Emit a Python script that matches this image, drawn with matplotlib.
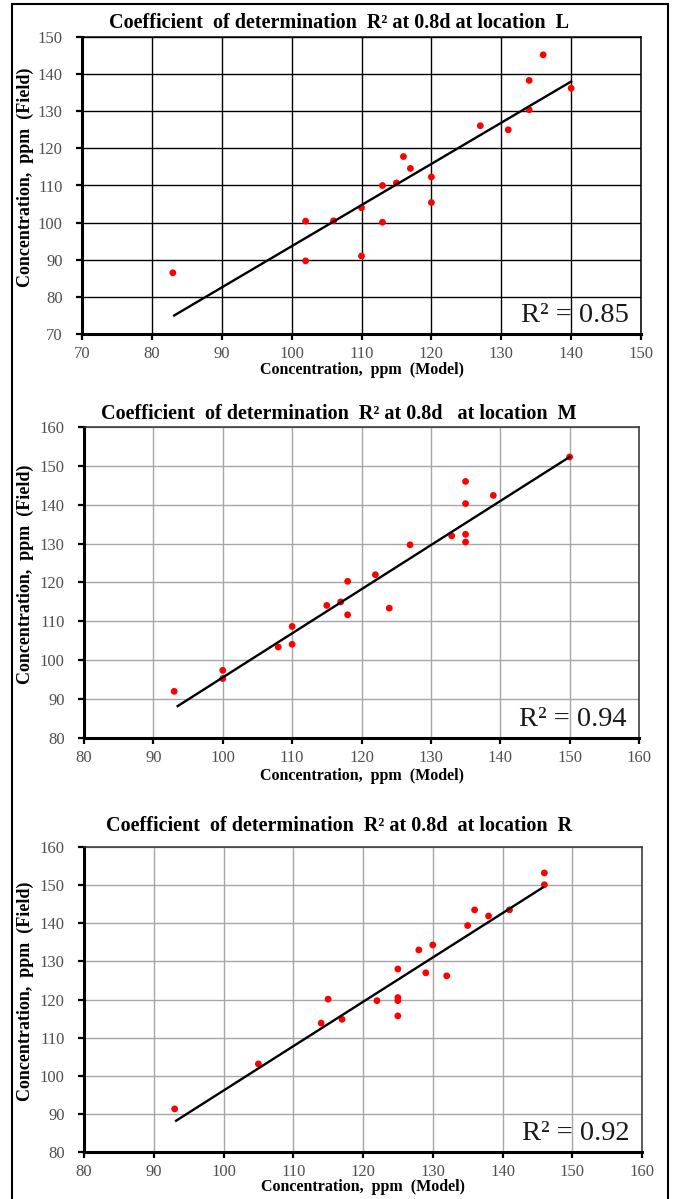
import matplotlib
matplotlib.use("Agg")
import matplotlib.pyplot as plt
from matplotlib.patches import Rectangle

plt.rcParams['font.family'] = ['Liberation Serif', 'DejaVu Serif']

# ---- data ----
# location L
model_L = [83, 102, 102, 106, 110, 110, 113, 113, 115, 116, 117, 120, 120, 127, 131, 134, 134, 136, 140]
field_L = [86.5, 100.4, 89.7, 100.5, 104, 91, 110, 100.1, 110.7, 117.8, 114.6, 112.3, 105.4, 126.1, 125, 138.3, 130.4, 145.2, 136.2]
trend_L_x = [83.2, 140]
trend_L_y = [75, 138]

# location M
model_M = [93, 100, 100, 108, 110, 110, 115, 117, 118, 118, 122, 124, 127, 133, 135, 135, 135, 135, 139, 150]
field_M = [92, 97.4, 95.3, 103.4, 108.7, 104.1, 114.1, 115, 111.7, 120.3, 122, 113.4, 129.7, 132, 146, 140.3, 132.4, 130.4, 142.4, 152.3]
trend_M_x = [93.5, 150]
trend_M_y = [88.2, 152.3]

# location R
model_R = [93, 105, 114, 115, 117, 122, 125, 125, 125, 125, 128, 129, 130, 132, 135, 136, 138, 141, 146, 146]
field_R = [91.3, 103.1, 113.8, 120.1, 114.8, 119.7, 120.5, 119.7, 115.7, 128, 133, 127, 134.3, 126.2, 139.4, 143.5, 141.9, 143.5, 153.2, 150.1]
trend_R_x = [93.2, 145.8]
trend_R_y = [88.2, 149.4]

r2_values = ['0.85', '0.94', '0.92']
titles = [
    'Coefficient  of determination  R\u00b2 at 0.8d at location  L',
    'Coefficient  of determination  R\u00b2 at 0.8d   at location  M',
    'Coefficient  of determination  R\u00b2 at 0.8d  at location  R',
]

W, H = 673, 1199
fig = plt.figure(figsize=(W / 100, H / 100), dpi=100)


def px_box(left, top, right, bottom):
    return [left / W, 1 - bottom / H, (right - left) / W, (bottom - top) / H]


def draw_panel(box, xs, ys, tx, ty, xlim, ylim, grid_color, frame_color, title, title_y, r2, xlab_y):
    ax = fig.add_axes(px_box(*box))
    ax.set_xlim(*xlim)
    ax.set_ylim(*ylim)
    ax.set_xticks(range(xlim[0], xlim[1] + 1, 10))
    ax.set_yticks(range(ylim[0], ylim[1] + 1, 10))
    ax.set_axisbelow(True)
    ax.grid(True, color=grid_color, lw=1.0)
    ax.scatter(xs, ys, s=24, color='#ff0000', zorder=3, edgecolors='none')
    ax.plot(tx, ty, color='black', lw=1.7, zorder=4)

    for side in ['left', 'bottom']:
        ax.spines[side].set_linewidth(2.2)
        ax.spines[side].set_color('black')
    for side in ['top', 'right']:
        ax.spines[side].set_linewidth(1.1)
        ax.spines[side].set_color(frame_color)

    ax.tick_params(direction='out', length=4, width=1.6, color='black',
                   labelcolor='#505050', labelsize=12)
    ax.tick_params(axis='y', pad=10)
    ax.tick_params(axis='x', pad=5)

    ax.text(0.978, 0.04, 'R\u00b2 = ' + r2, transform=ax.transAxes,
            ha='right', va='baseline', fontsize=20.5, color='#1a1a1a')

    fig.text(339 / W, 1 - title_y / H, title, ha='center', va='center',
             fontsize=14.5, fontweight='bold')
    fig.text((box[0] + box[2]) / 2 / W, 1 - xlab_y / H, 'Concentration,  ppm  (Model)',
             ha='center', va='center', fontsize=11.5, fontweight='bold')
    fig.text(25 / W, 1 - ((box[1] + box[3]) / 2 - 8) / H, 'Concentration,  ppm  (Field)',
             ha='center', va='center', rotation=90, fontsize=13, fontweight='bold')
    return ax


draw_panel((82, 37, 641, 334), model_L, field_L, trend_L_x, trend_L_y,
           (70, 150), (70, 150), 'black', 'black', titles[0], 23, r2_values[0], 370)
draw_panel((84, 427, 639, 738), model_M, field_M, trend_M_x, trend_M_y,
           (80, 160), (80, 160), '#a6a6a6', '#303030', titles[1], 414, r2_values[1], 776)
draw_panel((84, 847, 642, 1152), model_R, field_R, trend_R_x, trend_R_y,
           (80, 160), (80, 160), '#a6a6a6', '#303030', titles[2], 826, r2_values[2], 1187)

# outer frame round the whole figure
fig.add_artist(Rectangle((12 / W, -0.01), (668 - 12) / W, 1 - 4 / H + 0.01,
                         transform=fig.transFigure, fill=False, lw=1.5, edgecolor='black'))

fig.savefig('out.png', dpi=100)
